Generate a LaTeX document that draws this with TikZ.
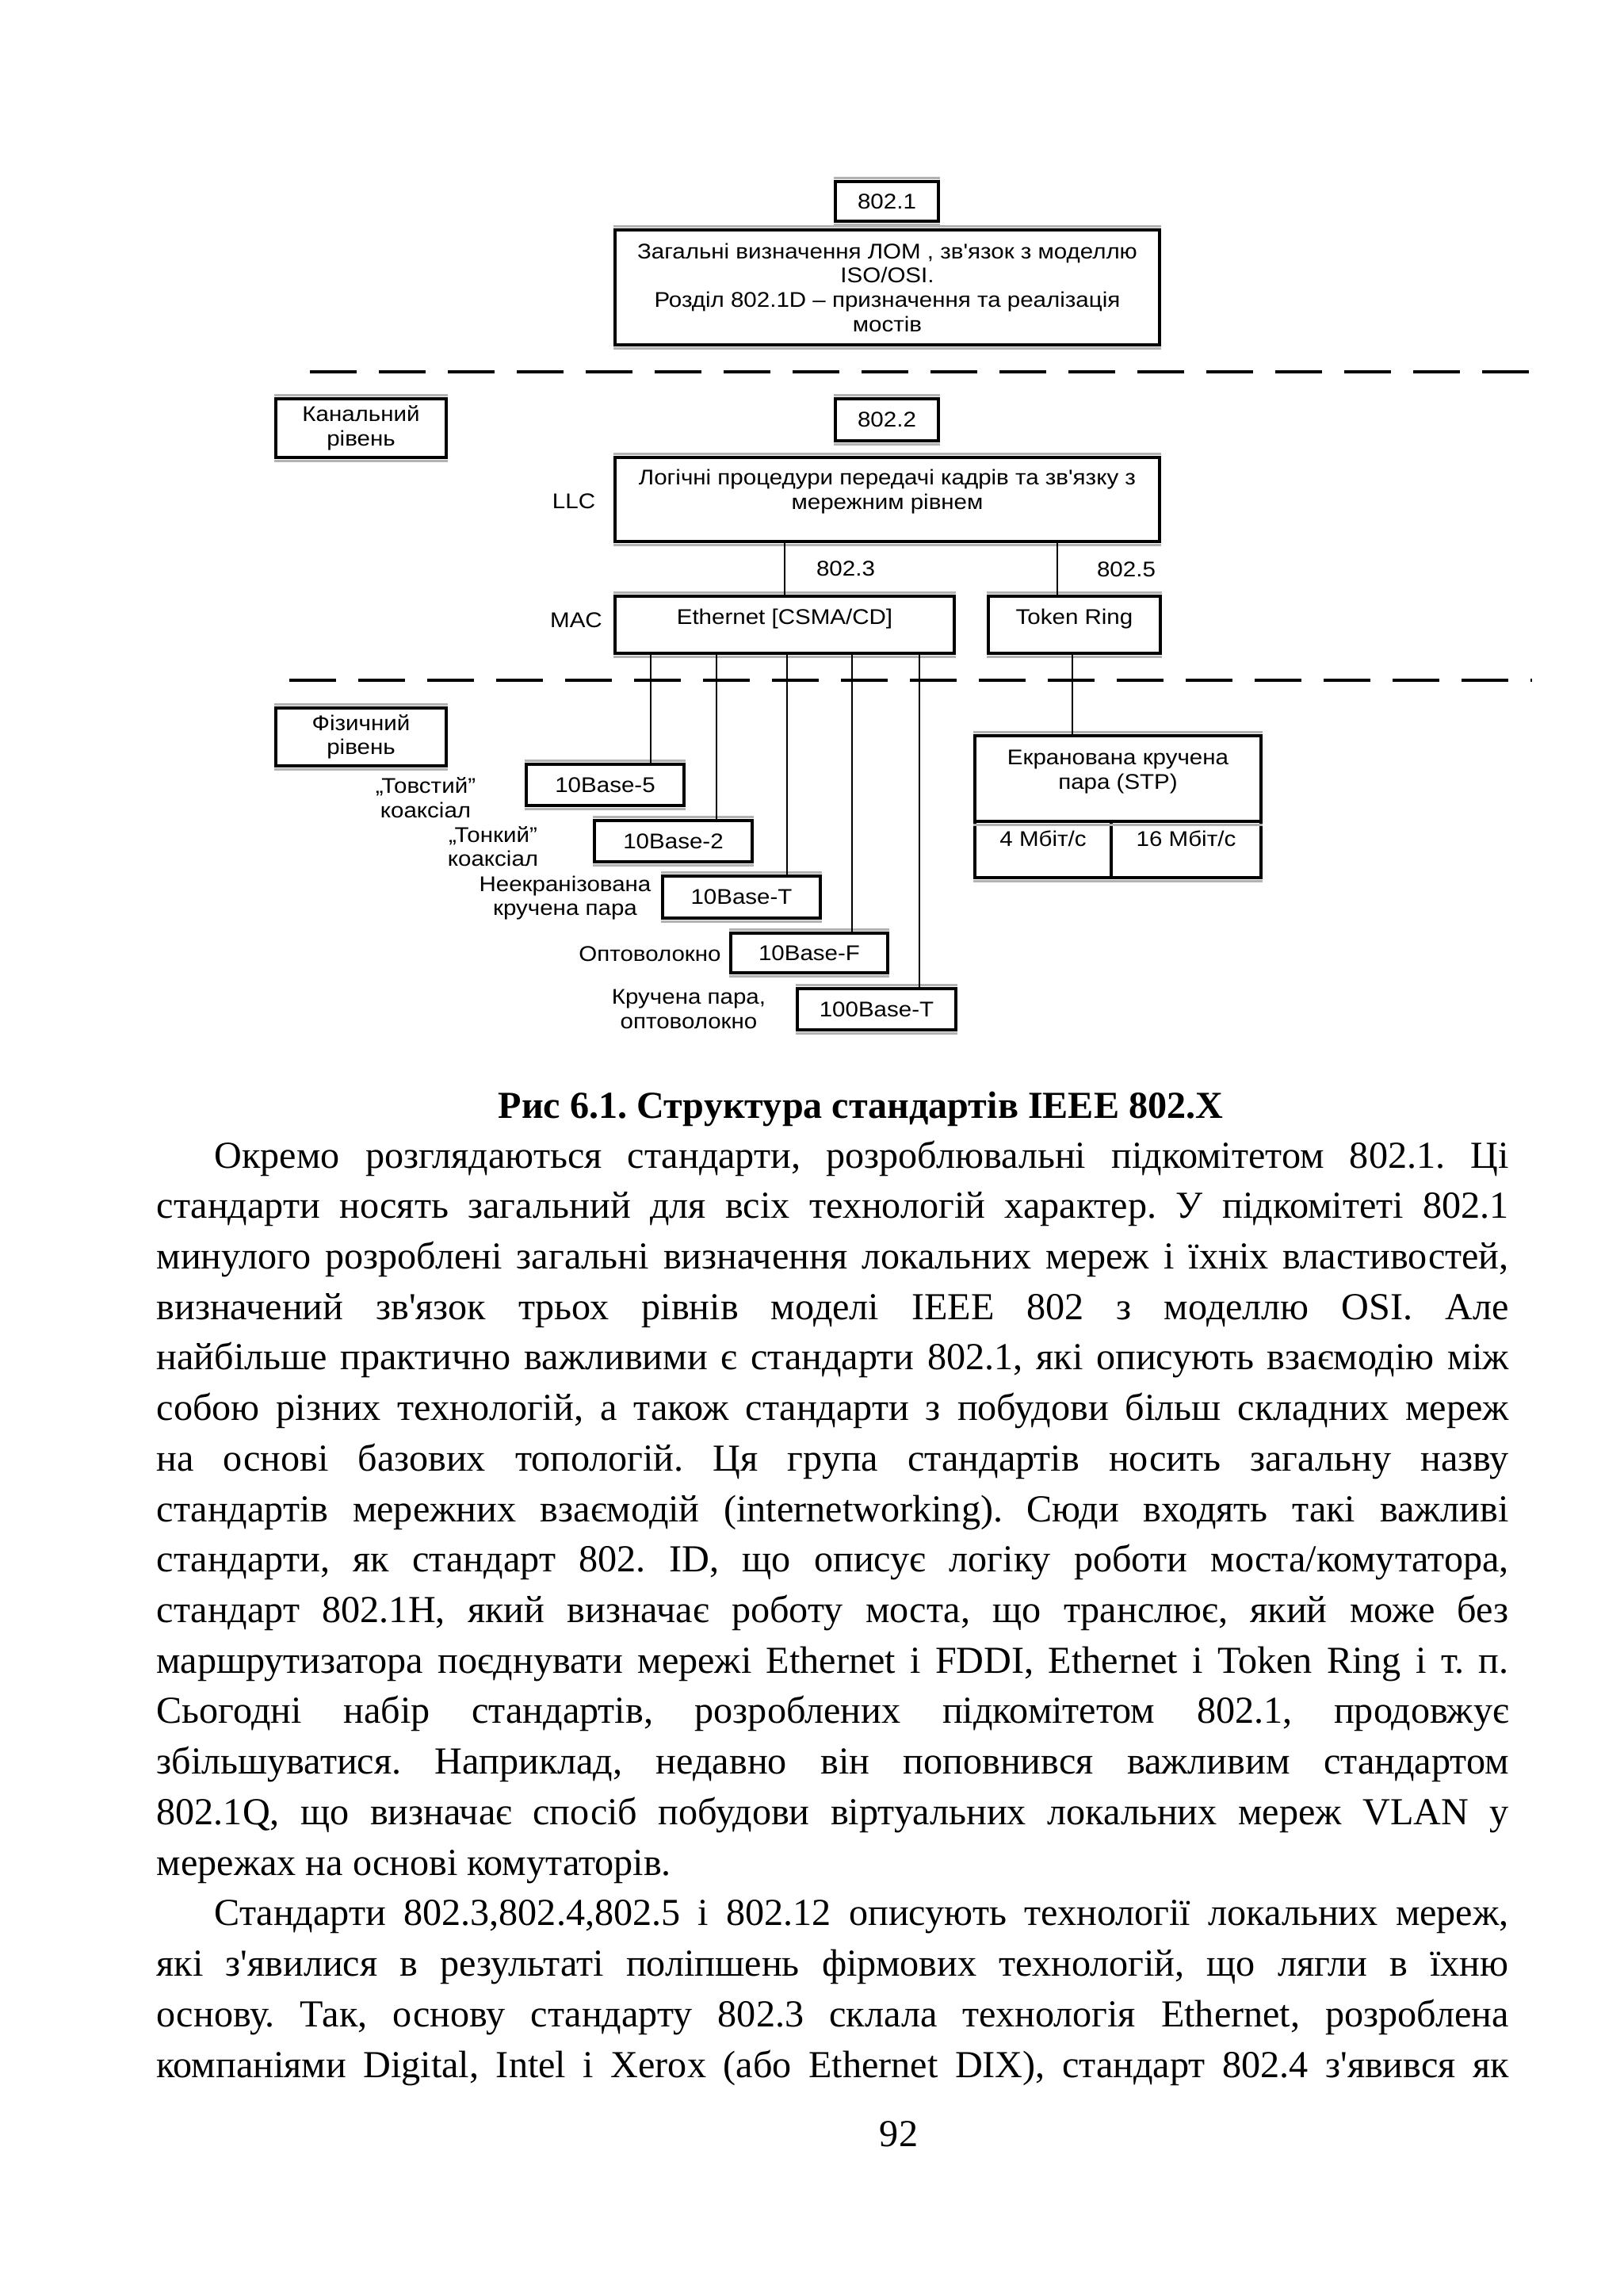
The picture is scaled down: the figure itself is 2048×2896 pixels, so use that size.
\documentclass[tikz,border=0pt]{standalone}
\usepackage{fontspec}
\setmainfont{Liberation Serif}[Ligatures=TeXOff]
\newfontfamily\diagfont{Liberation Sans}[FakeStretch=1.1,Ligatures=TeXOff]
\newdimen\pxu \pxu=0.29066pt
\newcommand\jl[2]{\hbox to #1\pxu{#2}}
\newcommand\tb[4]{\parbox[c][#2\pxu][t]{#1\pxu}{\centering\rule{0pt}{#3\pxu}#4\par}}
\frenchspacing
\begin{document}
\begin{tikzpicture}[x=0.29066pt,y=-0.29066pt,
  dg/.style={font={\diagfont\fontsize{7.8pt}{8.9pt}\selectfont}},
  box/.style 2 args={dg, draw, line width=0.9pt, inner sep=0pt, align=center,
    minimum width=#1*\pxu, minimum height=#2*\pxu},
  tbox/.style={dg, draw, line width=0.9pt, inner sep=0pt},
  conn/.style={line width=0.75pt},
  gbar/.style={draw=gray!60, line width=0.8pt},
  divider/.style={line width=1pt, dash pattern=on 17.15pt off 8.14pt},
  body/.style={font={\fontsize{14pt}{18.5pt}\selectfont}, inner sep=0pt, anchor=base west}]
\fill[white] (0,0) rectangle (2048,2896);
\useasboundingbox (0,0) rectangle (2048,2896);

% ---------- boxes ----------
\node[box={130}{50}] (b8021) at (1119,254) {802.1};
\node[box={687}{145}] (bgen) at (1119.5,362.5) {Загальні визначення ЛОМ , зв'язок з моделлю\\ISO/OSI.\\Розділ 802.1D – призначення та реалізація\\мостів};
\node[box={215}{74}] (bkan) at (455.5,540) {Канальний\\рівень};
\node[box={130}{53}] (b8022) at (1119,529.5) {802.2};
\node[tbox] (bllc) at (1119.5,630) {\tb{687}{106}{34.6}{Логічні процедури передачі кадрів та зв'язку з\\мережним рівнем}};
\node[tbox] (beth) at (990,788) {\tb{428}{72}{35.6}{Ethernet [CSMA/CD]}};
\node[tbox] (btok) at (1355.5,788) {\tb{217}{72}{35.6}{Token Ring}};
\node[box={215}{73}] (bphys) at (455.5,929.5) {Фізичний\\рівень};
\node[box={199}{52}] (b5) at (763.5,990) {10Base-5};
\node[box={199}{52}] (b2) at (849.5,1061) {10Base-2};
\node[box={199}{53}] (bT) at (935.5,1131.5) {10Base-T};
\node[box={198}{50}] (bF) at (1021,1202) {10Base-F};
\node[box={200}{52}] (b100) at (1106,1273) {100Base-T};
\node[tbox] (bstp) at (1410.5,982) {\tb{361}{108}{36.6}{Екранована кручена\\пара (STP)}};
\node[tbox] (b4) at (1316,1071.5) {\tb{172}{71}{31.6}{4 Мбіт/с}};
\node[tbox] (b16) at (1496.5,1071.5) {\tb{189}{71}{31.6}{16 Мбіт/с}};

\foreach \b in {b8021,bgen,bkan,b8022,bllc,beth,btok,bphys,b5,b2,bT,bF,b100,bstp}{
  \draw[gbar] ([yshift=0.85pt]\b.north west) -- ([yshift=0.85pt]\b.north east);
  \draw[gbar] ([yshift=-0.85pt]\b.south west) -- ([yshift=-0.85pt]\b.south east);
}
\draw[gbar] ([yshift=-0.85pt]b4.south west) -- ([yshift=-0.85pt]b16.south east);

% ---------- labels ----------
\node[dg] (lLLC) at (724,632) {LLC};
\node[dg] (lMAC) at (727,782) {MAC};
\node[dg] (l8023) at (1067,717) {802.3};
\node[dg] (l8025) at (1421,718) {802.5};
\node[dg,align=center] (l5) at (537,1006) {„Товстий”\\коаксіал};
\node[dg,align=center] (l2) at (622,1067.5) {„Тонкий”\\коаксіал};
\node[dg,align=center] (lT) at (713,1132.5) {Неекранізована\\кручена пара};
\node[dg] (lF) at (820,1203) {Оптоволокно};
\node[dg,align=center] (l100) at (869,1273) {Кручена пара,\\оптоволокно};

% ---------- connectors ----------
\coordinate (xE) at (990,0);
\coordinate (xR) at (1334,0);
\coordinate (x5) at (821,0);
\coordinate (x2) at (904,0);
\coordinate (xT) at (993,0);
\coordinate (xF) at (1075,0);
\coordinate (x100) at (1160,0);
\coordinate (xS) at (1353,0);
\draw[conn] (bllc.south -| xE) -- (beth.north -| xE);
\draw[conn] (bllc.south -| xR) -- (btok.north -| xR);
\draw[conn] (beth.south -| x5) -- (b5.north -| x5);
\draw[conn] (beth.south -| x2) -- (b2.north -| x2);
\draw[conn] (beth.south -| xT) -- (bT.north -| xT);
\draw[conn] (beth.south -| xF) -- (bF.north -| xF);
\draw[conn] (beth.south -| x100) -- (b100.north -| x100);
\draw[conn] (btok.south -| xS) -- (bstp.north -| xS);

% ---------- dividers ----------
\coordinate (d1a) at (391,469);
\coordinate (d1b) at (1929,469);
\coordinate (d2a) at (365,858);
\coordinate (d2b) at (1933,858);
\draw[divider] (d1a) -- (d1b);
\draw[divider] (d2a) -- (d2b);

% ---------- caption and body ----------
\node[font={\bfseries\fontsize{14pt}{18.5pt}\selectfont}, inner sep=0pt, anchor=base] (cap) at (1086,1410) {Рис 6.1. Структура стандартів IEEE 802.X};

\node[body] (t0) at (270,1473.0) {\jl{1633}{Окремо розглядаються стандарти, розроблювальні підкомітетом 802.1. Ці}};
\node[body] (t1) at (197,1536.7) {\jl{1706}{стандарти носять загальний для всіх технологій характер. У підкомітеті 802.1}};
\node[body] (t2) at (197,1600.4) {\jl{1706}{минулого розроблені загальні визначення локальних мереж і їхніх властивостей,}};
\node[body] (t3) at (197,1664.2) {\jl{1706}{визначений зв'язок трьох рівнів моделі IEEE 802 з моделлю OSI. Але}};
\node[body] (t4) at (197,1727.9) {\jl{1706}{найбільше практично важливими є стандарти 802.1, які описують взаємодію між}};
\node[body] (t5) at (197,1791.6) {\jl{1706}{собою різних технологій, а також стандарти з побудови більш складних мереж}};
\node[body] (t6) at (197,1855.3) {\jl{1706}{на основі базових топологій. Ця група стандартів носить загальну назву}};
\node[body] (t7) at (197,1919.0) {\jl{1706}{стандартів мережних взаємодій (internetworking). Сюди входять такі важливі}};
\node[body] (t8) at (197,1982.8) {\jl{1706}{стандарти, як стандарт 802. ID, що описує логіку роботи моста/комутатора,}};
\node[body] (t9) at (197,2046.5) {\jl{1706}{стандарт 802.1H, який визначає роботу моста, що транслює, який може без}};
\node[body] (t10) at (197,2110.2) {\jl{1706}{маршрутизатора поєднувати мережі Ethernet і FDDI, Ethernet і Token Ring і т. п.}};
\node[body] (t11) at (197,2173.9) {\jl{1706}{Сьогодні набір стандартів, розроблених підкомітетом 802.1, продовжує}};
\node[body] (t12) at (197,2237.6) {\jl{1706}{збільшуватися. Наприклад, недавно він поповнився важливим стандартом}};
\node[body] (t13) at (197,2301.4) {\jl{1706}{802.1Q, що визначає спосіб побудови віртуальних локальних мереж VLAN у}};
\node[body] (t14) at (197,2365.1) {мережах на основі комутаторів.};
\node[body] (t15) at (270,2428.8) {\jl{1633}{Стандарти 802.3,802.4,802.5 і 802.12 описують технології локальних мереж,}};
\node[body] (t16) at (197,2492.5) {\jl{1706}{які з'явилися в результаті поліпшень фірмових технологій, що лягли в їхню}};
\node[body] (t17) at (197,2556.2) {\jl{1706}{основу. Так, основу стандарту 802.3 склала технологія Ethernet, розроблена}};
\node[body] (t18) at (197,2620.0) {\jl{1706}{компаніями Digital, Intel і Xerox (або Ethernet DIX), стандарт 802.4 з'явився як}};

\node[font={\fontsize{14pt}{18.5pt}\selectfont}, inner sep=0pt, anchor=base] (pnum) at (1134,2707) {92};
\end{tikzpicture}
\end{document}
